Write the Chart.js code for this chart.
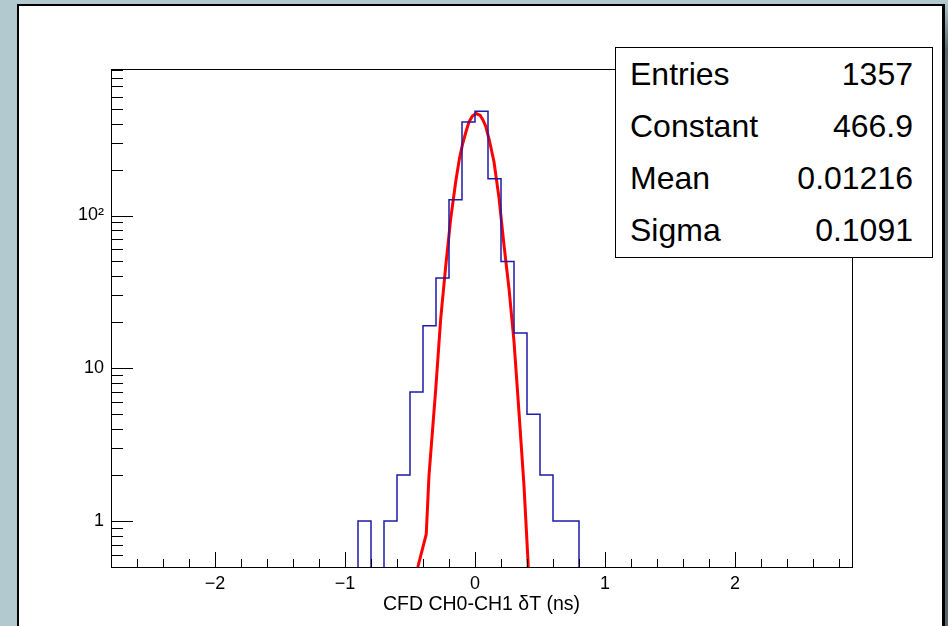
<!DOCTYPE html>
<html>
<head>
<meta charset="utf-8">
<script src="https://cdn.jsdelivr.net/npm/chart.js@4.4.0/dist/chart.umd.min.js"></script>
<style>
  body { margin: 0; width: 948px; height: 626px; overflow: hidden; position: relative; background: #b2c9cf; font-family: "Liberation Sans", Arial, sans-serif; }
  #pad { position: absolute; left: 17px; top: 4px; width: 923px; height: 640px; background: #fff; border-left: 2px solid #000; border-top: 2px solid #000; border-right: 3px solid #000; }
  #edge { position: absolute; left: 945px; top: 0; width: 3px; height: 626px; background: linear-gradient(#b2c9cf, #56686c 8%); }
  canvas { position: absolute; left: 0; top: 0; }
  #stats { position: absolute; left: 615px; top: 47px; width: 318px; height: 211px; box-sizing: border-box; border: 1px solid #000; background: #fff; }
  #stats .row { display: flex; justify-content: space-between; align-items: center; height: 52.25px; padding: 0 19px 0 14px; font-size: 32px; color: #000; }
</style>
</head>
<body>
<div id="pad"></div>
<div id="edge"></div>
<canvas id="chart" width="948" height="626"></canvas>
<div id="stats"></div>
<script>
// histogram: lower bin edges, bin width 0.1 ns, counts per bin
const binLow = [-0.9, -0.8, -0.7, -0.6, -0.5, -0.4, -0.3, -0.2, -0.1, 0.0, 0.1, 0.2, 0.3, 0.4, 0.5, 0.6, 0.7];
const binWidth = 0.1;
const counts = [1, 0, 1, 2, 7, 19, 39, 127, 410, 481, 174, 50, 17, 5, 2, 1, 1];

// gaussian fit curve as drawn
const fitX = [-0.44, -0.375, -0.354, -0.302, -0.264, -0.226, -0.187, -0.149, -0.12, -0.097, -0.07, -0.046, -0.02, 0.01, 0.04, 0.06, 0.082, 0.11, 0.146, 0.185, 0.223, 0.262, 0.3, 0.338, 0.377, 0.408, 0.42];
const fitY = [0.5, 0.82, 1.98, 7.3, 21, 46, 95, 165, 235, 290, 352, 410, 448, 465, 452, 424, 385, 312, 225, 130, 64, 33, 15, 5.2, 1.7, 0.54, 0.3];

const xRange = [-2.8, 2.9];
const yRange = [0.5, 910];
const xTicks = [-2, -1, 0, 1, 2];
const yTicks = [1, 10, 100];
const yTickLabels = ['1', '10', '10²'];
const xTitle = 'CFD CH0-CH1 δT (ns)';

const statNames = ['Entries', 'Constant', 'Mean', 'Sigma'];
const statValues = ['1357', '466.9', '0.01216', '0.1091'];

Chart.defaults.font.family = "'Liberation Sans', Arial, sans-serif";
Chart.defaults.color = '#000';

// empty bins go below the frame so the outline drops out of view like ROOT does
const floor = yRange[0] / 10;
const histPoints = [{ x: binLow[0], y: floor }];
binLow.forEach((x0, i) => histPoints.push({ x: x0, y: counts[i] > 0 ? counts[i] : floor }));
histPoints.push({ x: binLow[binLow.length - 1] + binWidth, y: floor });

const fitPoints = fitX.map((x, i) => ({ x: x, y: fitY[i] }));

// frame + inward ticks, ROOT style
const rootAxes = {
    id: 'rootAxes',
    afterDatasetsDraw(chart) {
        const { ctx, chartArea: a, scales: { x, y } } = chart;
        ctx.save();
        ctx.strokeStyle = '#000';
        ctx.lineWidth = 1;
        ctx.strokeRect(a.left + 0.5, a.top + 0.5, a.right - a.left, a.bottom - a.top);
        ctx.beginPath();
        for (let i = Math.ceil(xRange[0] / 0.2); i * 0.2 <= xRange[1]; i++) {
            const v = i * 0.2;
            const major = Math.abs(v - Math.round(v)) < 1e-6;
            const px = Math.round(x.getPixelForValue(v)) + 0.5;
            ctx.moveTo(px, a.bottom);
            ctx.lineTo(px, a.bottom - (major ? 15 : 8));
        }
        for (let d = -1; d <= 2; d++) {
            for (let m = 1; m <= 9; m++) {
                const v = m * Math.pow(10, d);
                if (v < yRange[0] || v > yRange[1]) continue;
                const py = Math.round(y.getPixelForValue(v)) + 0.5;
                ctx.moveTo(a.left, py);
                ctx.lineTo(a.left + (m === 1 ? 22 : 12), py);
            }
        }
        ctx.stroke();
        ctx.restore();
    }
};

new Chart(document.getElementById('chart').getContext('2d'), {
    type: 'line',
    data: {
        datasets: [{
            data: histPoints,
            borderColor: '#1c1ca6',
            borderWidth: 1.5,
            stepped: 'before',
            pointRadius: 0,
            fill: false,
            clip: 0
        }, {
            data: fitPoints,
            borderColor: '#ff0000',
            borderWidth: 3,
            tension: 0,
            pointRadius: 0,
            fill: false,
            clip: 0
        }]
    },
    options: {
        responsive: false,
        animation: false,
        devicePixelRatio: 1,
        layout: { padding: { left: 0, top: 69, right: 96, bottom: 0 } },
        plugins: { legend: { display: false }, tooltip: { enabled: false } },
        scales: {
            x: {
                type: 'linear',
                min: xRange[0],
                max: xRange[1],
                afterBuildTicks: s => { s.ticks = xTicks.map(v => ({ value: v })); },
                afterFit: s => { s.height = 59; },
                ticks: {
                    callback: v => (v < 0 ? '\u2212' + Math.abs(v) : String(v)),
                    font: { size: 18 },
                    padding: -2,
                    maxRotation: 0,
                    autoSkip: false
                },
                grid: { display: false },
                border: { display: false },
                title: { display: true, text: xTitle, font: { size: 19.5 }, padding: { top: 0, bottom: 10 } }
            },
            y: {
                type: 'logarithmic',
                min: yRange[0],
                max: yRange[1],
                afterBuildTicks: s => { s.ticks = yTicks.map(v => ({ value: v })); },
                afterFit: s => { s.width = 111; },
                ticks: {
                    callback: (v, i) => yTickLabels[i],
                    font: { size: 18 },
                    padding: -1
                },
                grid: { display: false },
                border: { display: false }
            }
        }
    },
    plugins: [rootAxes]
});

const stats = document.getElementById('stats');
statNames.forEach((name, i) => {
    const row = document.createElement('div');
    row.className = 'row';
    row.innerHTML = '<span>' + name + '</span><span>' + statValues[i] + '</span>';
    stats.appendChild(row);
});
</script>
</body>
</html>
